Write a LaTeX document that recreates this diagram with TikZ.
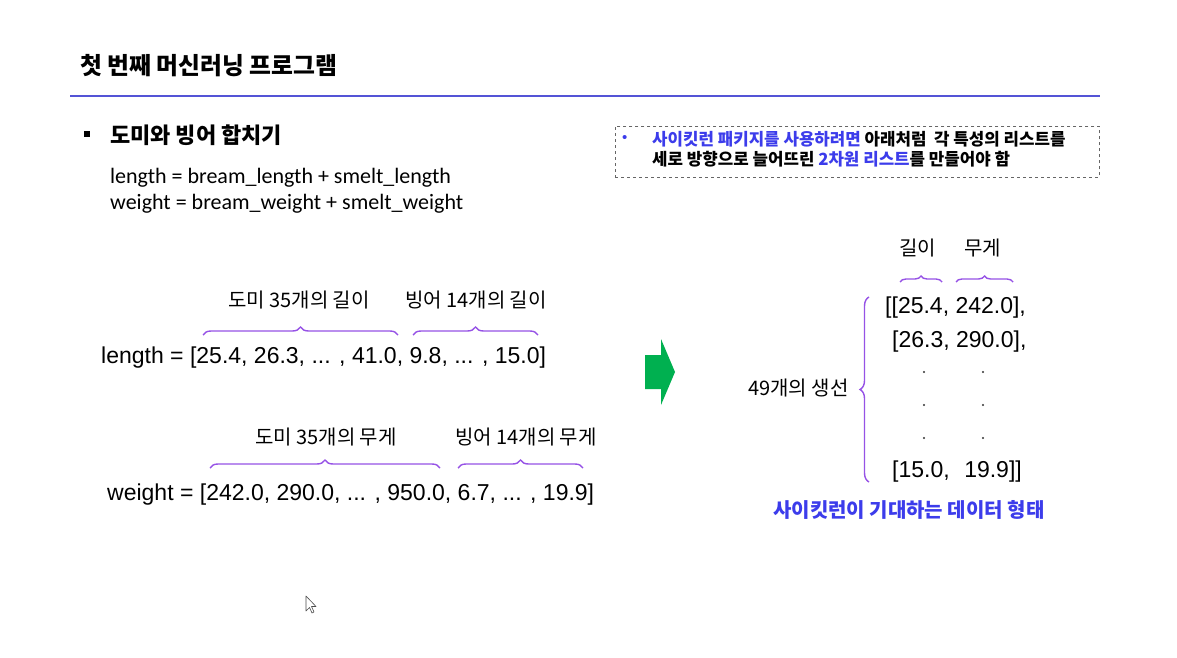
\documentclass[tikz,border=0pt]{standalone}
\usepackage{fontspec}
\setmainfont{Liberation Sans}
\newfontfamily\krfont{Noto Sans CJK KR}
\newfontfamily\carlitofont{Carlito}
\usetikzlibrary{decorations.pathreplacing}
\definecolor{lineblue}{RGB}{84,84,214}
\definecolor{txtblue}{RGB}{60,60,235}
\definecolor{bracepurple}{RGB}{150,82,230}
\definecolor{arrowgreen}{RGB}{0,176,80}
\tikzset{
  txt/.style={inner sep=0pt, anchor=west},
  krb/.style={txt, font=\krfont\bfseries},
  hand/.style={txt, font=\krfont\fontsize{20}{22}\selectfont},
  arr/.style={txt, font=\fontsize{23}{27}\selectfont},
  brc/.style={draw=bracepurple, line width=1.4pt, decorate, decoration={brace, amplitude=8pt}},
  dotm/.style={circle, fill=black!80, inner sep=0pt, minimum size=2.2pt},
}
\begin{document}
\begin{tikzpicture}[x=1pt,y=-1pt]
\useasboundingbox (0,0) rectangle (1177,658);
\fill[white] (0,0) rectangle (1177,658);
% title
\node[krb, font=\krfont\bfseries\fontsize{23.8}{28}\selectfont] (title) at (80,66) {첫 번째 머신러닝 프로그램};
\coordinate (l1) at (70,96); \coordinate (l2) at (1100,96);
\draw[lineblue, line width=1.5pt] (l1) -- (l2);
% heading
\node[fill=black, inner sep=0pt, minimum size=6pt] (bul) at (87,134) {};
\node[krb, font=\krfont\bfseries\fontsize{22}{26}\selectfont] (head) at (110,135) {도미와 빙어 합치기};
\node[txt, font=\carlitofont\fontsize{22}{26}\selectfont] (code1) at (110,178) {length = bream\_length + smelt\_length};
\node[txt, font=\carlitofont\fontsize{22}{26}\selectfont] (code2) at (110,204) {weight = bream\_weight + smelt\_weight};
% dashed box
\node[draw=black!60, dashed, line width=0.8pt, minimum width=484pt, minimum height=51pt, anchor=north west, inner sep=0pt] (box) at (615,126) {};
\node[txt, text=txtblue, font=\fontsize{15}{18}\selectfont] (bdot) at (622,139) {•};
\node[krb, font=\krfont\bfseries\fontsize{16.8}{20}\selectfont] (bl1) at (652,139) {\textcolor{txtblue}{사이킷런 패키지를 사용하려면} 아래처럼\ \ 각 특성의 리스트를};
\node[krb, font=\krfont\bfseries\fontsize{16.8}{20}\selectfont] (bl2) at (652,159) {세로 방향으로 늘어뜨린 \textcolor{txtblue}{2차원 리스트}를 만들어야 함};
% length labels and braces
\node[hand] (lab1) at (228,300) {도미 35개의 길이};
\node[hand] (lab2) at (405,300) {빙어 14개의 길이};
\coordinate (b1a) at (203,335); \coordinate (b1b) at (398,335);
\coordinate (b2a) at (413,335); \coordinate (b2b) at (538,335);
\draw[brc] (b1a) -- (b1b);
\draw[brc] (b2a) -- (b2b);
\node[arr] (len) at (101,358) {length = [25.4, 26.3, ... , 41.0, 9.8, ... , 15.0]};
% weight labels and braces
\node[hand] (lab3) at (255,437) {도미 35개의 무게};
\node[hand] (lab4) at (455,437) {빙어 14개의 무게};
\coordinate (b3a) at (210,468); \coordinate (b3b) at (440,468);
\coordinate (b4a) at (458,468); \coordinate (b4b) at (583,468);
\draw[brc] (b3a) -- (b3b);
\draw[brc] (b4a) -- (b4b);
\node[arr] (wt) at (107,495) {weight = [242.0, 290.0, ... , 950.0, 6.7, ... , 19.9]};
% green arrow
\fill[arrowgreen] (645,355) -- (661,355) -- (661,339) -- (675,372) -- (661,405) -- (661,389) -- (645,389) -- cycle;
% right side
\node[hand] (gil) at (899,248) {길이};
\node[hand] (mu) at (964,248) {무게};
\coordinate (s1a) at (900,282); \coordinate (s1b) at (942,282);
\coordinate (s2a) at (956,282); \coordinate (s2b) at (1013,282);
\draw[brc, decoration={brace, amplitude=6pt}] (s1a) -- (s1b);
\draw[brc, decoration={brace, amplitude=6pt}] (s2a) -- (s2b);
\coordinate (vb) at (869,482); \coordinate (vt) at (869,297);
\draw[brc, decoration={brace, amplitude=9pt}] (vb) -- (vt);
\node[hand] (fish) at (748,388) {49개의 생선};
\node[arr] (r1) at (885,308) {[[25.4, 242.0],};
\node[arr] (r2) at (892,342) {[26.3, 290.0],};
\node[dotm] (d1) at (924,372) {}; \node[dotm] (d2) at (983,372) {};
\node[dotm] (d3) at (924,405) {}; \node[dotm] (d4) at (983,405) {};
\node[dotm] (d5) at (924,438) {}; \node[dotm] (d6) at (983,438) {};
\node[arr] (r3a) at (892,472) {[15.0,};
\node[arr, anchor=east] (r3b) at (1022,472) {19.9]]};
\node[krb, text=txtblue, font=\krfont\bfseries\fontsize{20}{24}\selectfont] (cap) at (773,510) {사이킷런이 기대하는 데이터 형태};
% mouse cursor
\draw[black!70, fill=white, line width=0.6pt, line join=round] (306,596) -- (306,611) -- (309.5,607.5) -- (312,613) -- (314,612) -- (311.5,606.5) -- (316,606.5) -- cycle;
\end{tikzpicture}
\end{document}
